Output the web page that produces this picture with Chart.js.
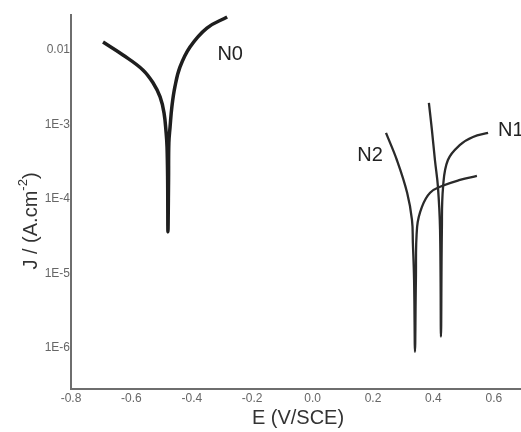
<!DOCTYPE html>
<html>
<head>
<meta charset="utf-8">
<script src="https://cdn.jsdelivr.net/npm/chart.js@4.4.1/dist/chart.umd.min.js"></script>
<style>
  html, body { margin: 0; padding: 0; background: #fff; }
  canvas { display: block; }
</style>
</head>
<body>
<canvas id="c" width="521" height="432"></canvas>
<script>
// Potentiodynamic polarization curves (Tafel plots) for samples N0, N1, N2
// Potential E in V vs SCE, current density J in A.cm-2

const n0E = [-0.694, -0.628, -0.562, -0.528, -0.505, -0.492, -0.485, -0.482, -0.480, -0.479,
             -0.477, -0.476, -0.472, -0.466, -0.456, -0.439, -0.406, -0.350, -0.283];
const n0J = [0.0128, 0.00857, 0.00540, 0.00360, 0.00234, 0.00143, 7.69e-4, 4.99e-4, 1.80e-4, 3.61e-5,
             1.80e-4, 5.65e-4, 9.24e-4, 1.72e-3, 3.19e-3, 5.91e-3, 0.01097, 0.01972, 0.02773];

const n1E = [0.385, 0.395, 0.405, 0.415, 0.422, 0.425,
             0.428, 0.432, 0.448, 0.488, 0.531, 0.581];
const n1J = [1.95e-3, 8.43e-4, 3.33e-4, 1.45e-4, 3.84e-5, 1.41e-6,
             3.84e-5, 1.45e-4, 3.33e-4, 5.31e-4, 6.79e-4, 7.69e-4];

const n2E = [0.243, 0.279, 0.313, 0.329, 0.332, 0.336, 0.339,
             0.342, 0.346, 0.362, 0.389, 0.428, 0.488, 0.544];
const n2J = [7.69e-4, 3.33e-4, 1.21e-4, 5.23e-5, 2.56e-5, 8.18e-6, 8.83e-7,
             8.18e-6, 4.21e-5, 7.82e-5, 1.21e-4, 1.49e-4, 1.80e-4, 2.04e-4];

const seriesNames = ['N0', 'N1', 'N2'];
// curve label anchors [E, J]
const labelE = [-0.273, 0.614, 0.190];
const labelJ = [0.00857, 8.18e-4, 3.78e-4];

const xTicks = [-0.8, -0.6, -0.4, -0.2, 0.0, 0.2, 0.4, 0.6];
const yTicks = [1e-6, 1e-5, 1e-4, 1e-3, 1e-2];
const yTickLabels = ['1E-6', '1E-5', '1E-4', '1E-3', '0.01'];

const xTitle = 'E (V/SCE)';
const yTitleMain = 'J / (A.cm';
const yTitleSup = '-2';
const yTitleEnd = ')';

function pts(es, js) { return es.map((e, i) => ({ x: e, y: js[i] })); }

const FONT = '"Liberation Sans", Arial, sans-serif';

const annotate = {
  id: 'annotate',
  afterDraw(chart) {
    const ctx = chart.ctx;
    const xs = chart.scales.x, ys = chart.scales.y;
    ctx.save();
    ctx.fillStyle = '#222';
    ctx.font = '20px ' + FONT;
    ctx.textBaseline = 'middle';
    // curve names
    seriesNames.forEach((n, i) => {
      const px = xs.getPixelForValue(labelE[i]);
      const py = ys.getPixelForValue(labelJ[i]);
      ctx.textAlign = i === 1 ? 'left' : 'center';
      ctx.fillText(n, px, py);
    });
    // x axis title
    ctx.fillStyle = '#333';
    ctx.textAlign = 'center';
    ctx.font = '20px ' + FONT;
    ctx.fillText(xTitle, 298, 418);
    // y axis title with superscript
    ctx.translate(31, 221);
    ctx.rotate(-Math.PI / 2);
    ctx.textAlign = 'left';
    const big = '20px ' + FONT, small = '13px ' + FONT;
    ctx.font = big; const w1 = ctx.measureText(yTitleMain).width;
    const w3 = ctx.measureText(yTitleEnd).width;
    ctx.font = small; const w2 = ctx.measureText(yTitleSup).width;
    let x0 = -(w1 + w2 + w3) / 2;
    ctx.font = big; ctx.fillText(yTitleMain, x0, 0);
    ctx.font = small; ctx.fillText(yTitleSup, x0 + w1, -8);
    ctx.font = big; ctx.fillText(yTitleEnd, x0 + w1 + w2, 0);
    ctx.restore();
  }
};

const lineStyle = (color, width) => ({
  borderColor: color, borderWidth: width, pointRadius: 0, showLine: true,
  fill: false, tension: 0.4, borderCapStyle: 'butt', borderJoinStyle: 'round'
});

new Chart(document.getElementById('c'), {
  type: 'scatter',
  data: {
    datasets: [
      Object.assign({ label: 'N0', data: pts(n0E, n0J) }, lineStyle('#1e1e1e', 3.5)),
      Object.assign({ label: 'N1', data: pts(n1E, n1J) }, lineStyle('#2a2a2a', 2.3)),
      Object.assign({ label: 'N2', data: pts(n2E, n2J) }, lineStyle('#2a2a2a', 2.3))
    ]
  },
  options: {
    responsive: false,
    animation: false,
    layout: { padding: { top: 15, right: 0, left: 0, bottom: 0 } },
    plugins: { legend: { display: false }, tooltip: { enabled: false } },
    scales: {
      x: {
        type: 'linear', min: -0.8, max: 0.69,
        grid: { display: false, drawTicks: false },
        border: { color: '#6e6e6e', width: 2 },
        afterBuildTicks: s => { s.ticks = xTicks.map(v => ({ value: v })); },
        afterFit: s => { s.height = 43; },
        ticks: {
          padding: 2, color: '#666', font: { family: FONT, size: 12 },
          maxRotation: 0, autoSkip: false,
          callback: v => Number(v).toFixed(1)
        }
      },
      y: {
        type: 'logarithmic', min: 2.8e-7, max: 0.0295,
        grid: { display: false, drawTicks: false },
        border: { color: '#6e6e6e', width: 2 },
        afterBuildTicks: s => { s.ticks = yTicks.map(v => ({ value: v })); },
        afterFit: s => { s.width = 71; },
        ticks: {
          padding: 1, color: '#666', font: { family: FONT, size: 12 }, autoSkip: false,
          callback: v => { const i = yTicks.findIndex(t => Math.abs(t - v) / t < 1e-6); return i >= 0 ? yTickLabels[i] : ''; }
        }
      }
    }
  },
  plugins: [annotate]
});
</script>
</body>
</html>
